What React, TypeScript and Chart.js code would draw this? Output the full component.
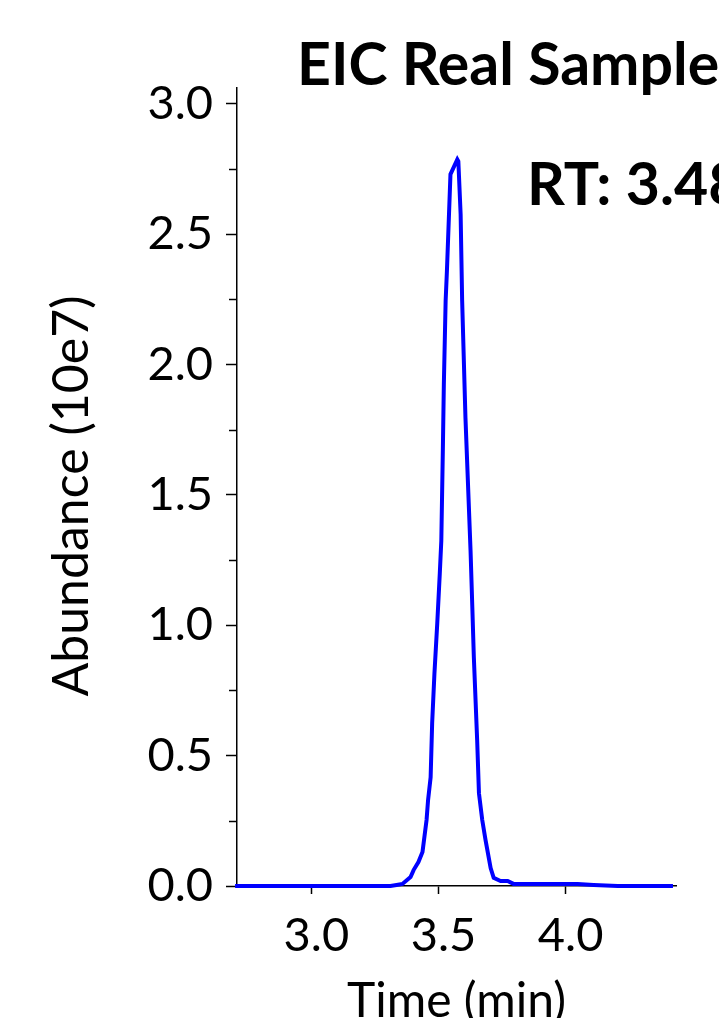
import React, { useEffect, useRef } from "react";
import { Chart, registerables } from "chart.js";

Chart.register(...registerables);

const timeMin = [
  2.700, 3.311, 3.335, 3.358, 3.390, 3.402, 3.421, 3.437, 3.453, 3.459,
  3.469, 3.475, 3.484, 3.495, 3.505, 3.511, 3.517, 3.521, 3.528, 3.533,
  3.547, 3.574, 3.578, 3.587, 3.593, 3.606, 3.626, 3.633, 3.639, 3.652,
  3.659, 3.672, 3.685, 3.705, 3.717, 3.744, 3.772, 3.795, 4.047, 4.110,
  4.205, 4.422,
];
const abundance = [
  0.000, 0.000, 0.004, 0.008, 0.034, 0.061, 0.092, 0.130, 0.253, 0.330,
  0.417, 0.624, 0.815, 1.006, 1.198, 1.324, 1.669, 1.925, 2.243, 2.357,
  2.729, 2.786, 2.779, 2.576, 2.243, 1.795, 1.286, 1.068, 0.876, 0.559,
  0.356, 0.253, 0.176, 0.069, 0.031, 0.019, 0.019, 0.008, 0.008, 0.004,
  0.000, 0.000,
];
const xTickValues = [3.0, 3.5, 4.0];
const titleText = "EIC Real Sample";
const rtText = "RT: 3.48";
const xTitle = "Time (min)";
const yTitle = "Abundance (10e7)";

const FONT = "Lato, 'Open Sans', sans-serif";

const isMajor = (v: number) => Math.abs(v * 2 - Math.round(v * 2)) < 1e-6;

export default function App() {
  const ref = useRef<HTMLCanvasElement | null>(null);
  useEffect(() => {
    const canvas = ref.current!;
    const overlay = {
      id: "overlay",
      afterDraw(chart: any) {
        const { ctx, chartArea } = chart;
        const ys = chart.scales.y;
        ctx.save();
        // minor ticks
        ctx.strokeStyle = "#000";
        ctx.lineWidth = 1.5;
        ys.ticks.forEach((t: any) => {
          if (!isMajor(t.value)) {
            const py = Math.round(ys.getPixelForValue(t.value)) + 0.5;
            ctx.beginPath();
            ctx.moveTo(chartArea.left - 8, py);
            ctx.lineTo(chartArea.left, py);
            ctx.stroke();
          }
        });
        // titles
        ctx.fillStyle = "#000";
        ctx.textBaseline = "alphabetic";
        ctx.textAlign = "left";
        ctx.font = `bold 59px ${FONT}`;
        ctx.fillText(titleText, chartArea.left + 60, chartArea.top - 3);
        ctx.fillText(rtText, chartArea.left + 290, chartArea.top + 117);
        // y title
        ctx.font = `50px ${FONT}`;
        ctx.translate(chartArea.left - 165, (chartArea.top + chartArea.bottom) / 2 + 9);
        ctx.rotate(-Math.PI / 2);
        ctx.textAlign = "center";
        ctx.textBaseline = "middle";
        ctx.fillText(yTitle, 0, 0);
        ctx.restore();
      },
    };
    const chart = new Chart(canvas, {
      type: "line",
      data: {
        datasets: [
          {
            data: timeMin.map((t, i) => ({ x: t, y: abundance[i] })),
            borderColor: "#0000FF",
            borderWidth: 4,
            pointRadius: 0,
            tension: 0,
            fill: false,
            clip: false as any,
          },
        ],
      },
      options: {
        animation: false,
        responsive: false,
        devicePixelRatio: 1,
        layout: { padding: { top: 88, right: 43, left: 0, bottom: 0 } },
        plugins: { legend: { display: false }, tooltip: { enabled: false }, title: { display: false } },
        scales: {
          x: {
            type: "linear",
            min: 2.7075,
            max: 4.434,
            afterBuildTicks: (scale: any) => {
              scale.ticks = xTickValues.map((v) => ({ value: v }));
            },
            afterFit: (scale: any) => {
              scale.height = 174;
            },
            grid: {
              drawOnChartArea: false,
              drawTicks: true,
              tickLength: 8,
              tickColor: "#000",
              tickWidth: 1.5,
            },
            border: { display: true, color: "#000", width: 1.5 },
            ticks: {
              color: "#000",
              font: { family: FONT, size: 47 },
              padding: 14,
              labelOffset: 5,
              maxRotation: 0,
              autoSkip: false,
              callback: (v: any) => Number(v).toFixed(1),
            },
            title: {
              display: true,
              text: xTitle,
              color: "#000",
              font: { family: FONT, size: 48 },
              padding: { top: 0, bottom: 30 },
            },
          },
          y: {
            type: "linear",
            min: 0,
            max: 3.06,
            afterFit: (scale: any) => {
              scale.width = 237;
            },
            grid: {
              drawOnChartArea: false,
              drawTicks: true,
              tickLength: 11,
              tickWidth: 1.5,
              tickColor: (c: any) => (c.tick && isMajor(c.tick.value) ? "#000" : "rgba(0,0,0,0)"),
            },
            border: { display: true, color: "#000", width: 1.5 },
            ticks: {
              stepSize: 0.25,
              includeBounds: false,
              color: "#000",
              font: { family: FONT, size: 47 },
              padding: 13,
              autoSkip: false,
              callback: (v: any) => (isMajor(Number(v)) ? Number(v).toFixed(1) : ""),
            },
          },
        },
      },
      plugins: [overlay],
    });
    return () => chart.destroy();
  }, []);
  return (
    <div style={{ position: "absolute", left: 0, top: 0, width: 719, height: 1018, overflow: "hidden", background: "#fff" }}>
      <canvas ref={ref} width={719} height={1060} style={{ display: "block", width: 719, height: 1060 }} />
    </div>
  );
}
